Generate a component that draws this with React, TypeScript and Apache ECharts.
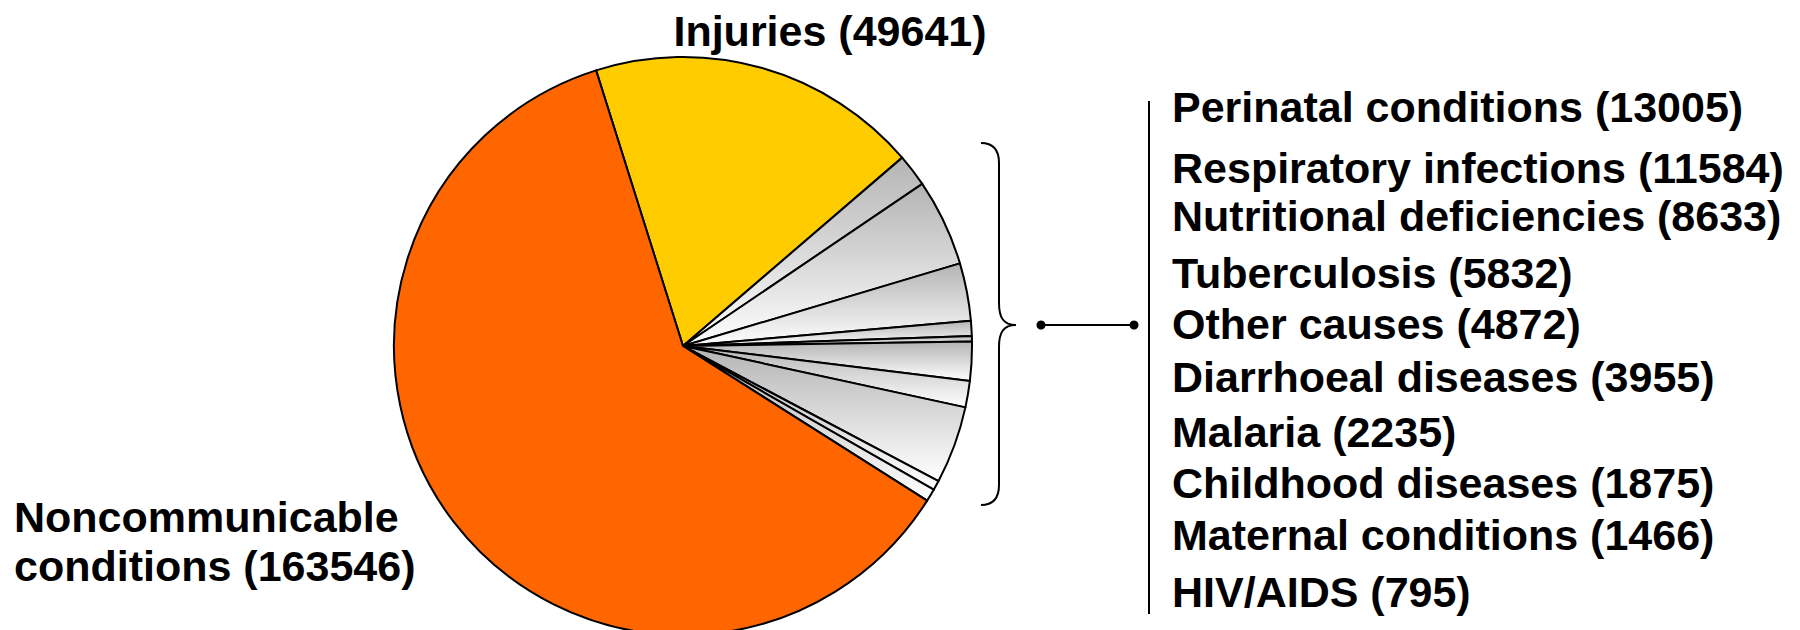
import React, { useEffect, useRef } from "react";
import * as echarts from "echarts";

// ---- data ----
const MAIN_CATEGORIES = ["Injuries", "Noncommunicable conditions"];
const MAIN_VALUES = [49641, 163546];

const GROUP_CATEGORIES = [
  "Perinatal conditions",
  "Respiratory infections",
  "Nutritional deficiencies",
  "Tuberculosis",
  "Other causes",
  "Diarrhoeal diseases",
  "Malaria",
  "Childhood diseases",
  "Maternal conditions",
  "HIV/AIDS",
];
const GROUP_VALUES = [13005, 11584, 8633, 5832, 4872, 3955, 2235, 1875, 1466, 795];

// clockwise order of the grey slices after Injuries
const SLICE_ORDER = [
  "Other causes",
  "Perinatal conditions",
  "Nutritional deficiencies",
  "Malaria",
  "HIV/AIDS",
  "Tuberculosis",
  "Diarrhoeal diseases",
  "Respiratory infections",
  "Maternal conditions",
  "Childhood diseases",
];

// ---- layout (not data) ----
const LIST_Y = [107, 168, 216, 273, 324, 377, 432, 483, 535, 592];
const FONT = '"Liberation Sans", Arial, sans-serif';
const FONT_SIZE = 43;

echarts.graphic.registerShape(
  "brace",
  echarts.graphic.extendPath(
    "M0,0 C12,0 18,6 18,20 L18,160 C18,174 22,182 35,182 C22,182 18,190 18,204 L18,342 C18,356 12,362 0,362",
    {}
  )
);

export default function App() {
  const ref = useRef<HTMLDivElement>(null);
  useEffect(() => {
    document.body.style.margin = "0";
    if (!ref.current) return;
    const chart = echarts.init(ref.current, undefined, { renderer: "svg" });

    const grey = () =>
      new echarts.graphic.LinearGradient(0, 0, 0, 1, [
        { offset: 0, color: "#b4b4b4" },
        { offset: 1, color: "#ffffff" },
      ]);

    const data: any[] = [];
    data.push({ name: MAIN_CATEGORIES[0], value: MAIN_VALUES[0], itemStyle: { color: "#FFCC00" } });
    SLICE_ORDER.forEach((n) => {
      const i = GROUP_CATEGORIES.indexOf(n);
      data.push({ name: n, value: GROUP_VALUES[i], itemStyle: { color: grey() } });
    });
    data.push({ name: MAIN_CATEGORIES[1], value: MAIN_VALUES[1], itemStyle: { color: "#FF6600" } });

    const txt = (text: string, x: number, y: number, align = "left") => ({
      type: "text",
      x,
      y,
      silent: true,
      style: {
        text,
        fill: "#000",
        fontSize: FONT_SIZE,
        fontWeight: "bold",
        fontFamily: FONT,
        textAlign: align,
        textVerticalAlign: "middle",
        lineHeight: 49,
      },
    });

    const graphics: any[] = [];
    graphics.push(txt(`${MAIN_CATEGORIES[0]} (${MAIN_VALUES[0]})`, 830, 31, "center"));
    graphics.push(txt(`Noncommunicable\nconditions (${MAIN_VALUES[1]})`, 14, 541));
    GROUP_CATEGORIES.forEach((c, i) => {
      graphics.push(txt(`${c} (${GROUP_VALUES[i]})`, 1172, LIST_Y[i]));
    });
    graphics.push({
      type: "brace",
      x: 981,
      y: 143,
      silent: true,
      style: { stroke: "#000", fill: "none", lineWidth: 2 },
    });
    graphics.push({
      type: "line",
      silent: true,
      shape: { x1: 1041, y1: 325, x2: 1134, y2: 325 },
      style: { stroke: "#000", lineWidth: 2 },
    });
    graphics.push({ type: "circle", silent: true, shape: { cx: 1041, cy: 325, r: 4.5 }, style: { fill: "#000" } });
    graphics.push({ type: "circle", silent: true, shape: { cx: 1134, cy: 325, r: 4.5 }, style: { fill: "#000" } });
    graphics.push({
      type: "line",
      silent: true,
      shape: { x1: 1149, y1: 101, x2: 1149, y2: 614 },
      style: { stroke: "#000", lineWidth: 2 },
    });

    chart.setOption({
      animation: false,
      backgroundColor: "#ffffff",
      series: [
        {
          type: "pie",
          center: [683, 346],
          radius: 289,
          startAngle: 107.5,
          clockwise: true,
          label: { show: false },
          labelLine: { show: false },
          emphasis: { disabled: true },
          itemStyle: { borderColor: "#000", borderWidth: 2 },
          data,
        },
      ],
      graphic: graphics,
    });
    return () => chart.dispose();
  }, []);
  return <div ref={ref} style={{ width: 1800, height: 630 }} />;
}
